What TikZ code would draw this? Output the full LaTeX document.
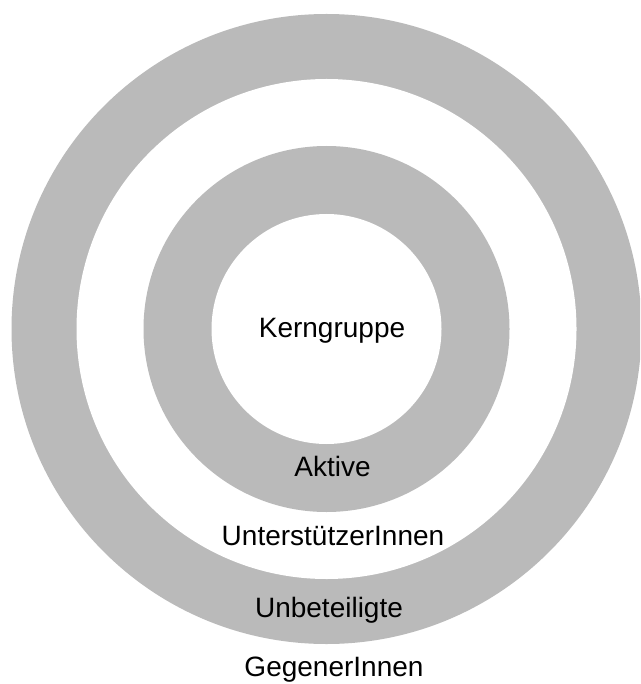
\documentclass[tikz,border=0pt]{standalone}
\usepackage{fontspec}
\setmainfont{Liberation Sans}
\definecolor{ringgray}{RGB}{186,186,186}
\begin{document}
\begin{tikzpicture}[x=1pt,y=-1pt,
  ring/.style={fill=ringgray,draw=none},
  hole/.style={fill=white,draw=none},
  lbl/.style={anchor=base,inner sep=0pt,font=\fontsize{28}{33}\selectfont}]
\useasboundingbox (0,0) rectangle (640,684);
\clip (0,0) rectangle (640,684);
\coordinate (c) at (326.5,329);
\fill[white] (0,0) rectangle (640,684);
\path[ring] (c) circle[radius=315];
\path[hole] (c) circle[radius=250];
\path[ring] (c) circle[radius=183];
\path[hole] (c) circle[radius=115];
\node[lbl] (kern) at (332,337) {Kerngruppe};
\node[lbl] (akt) at (332.5,476) {Aktive};
\node[lbl] (unt) at (333,545) {UnterstützerInnen};
\node[lbl] (unb) at (329,617) {Unbeteiligte};
\node[lbl] (geg) at (334,676) {GegenerInnen};
\end{tikzpicture}
\end{document}
